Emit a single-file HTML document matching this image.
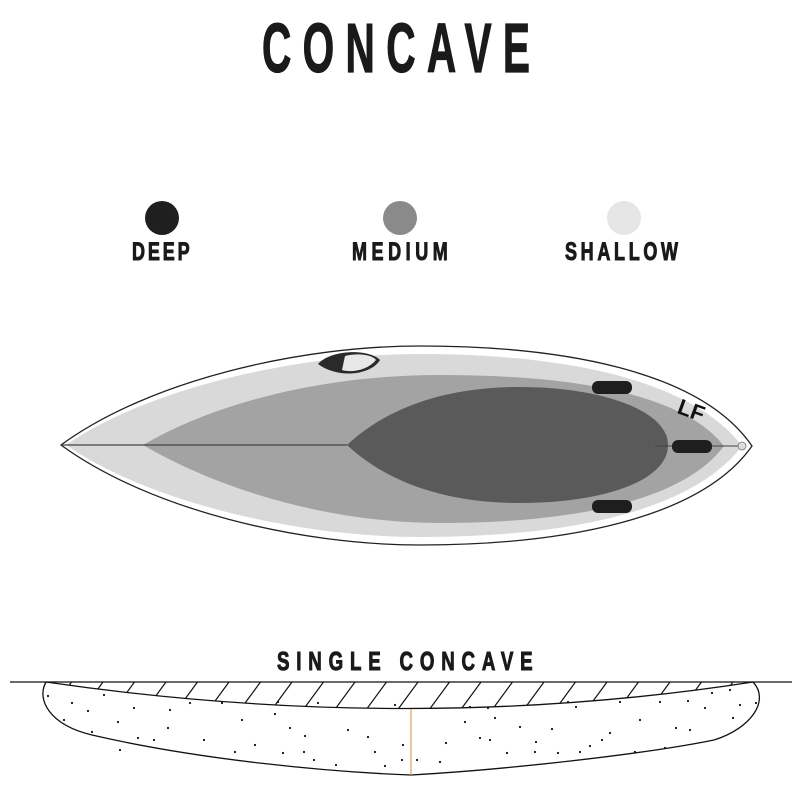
<!DOCTYPE html>
<html><head><meta charset="utf-8"><style>
html,body{margin:0;padding:0;background:#fff;}
svg{display:block;}
.t{font-family:"Liberation Sans",sans-serif;font-weight:bold;fill:#1a1a1a;stroke:#1a1a1a;stroke-width:1;}
</style></head><body>
<svg width="800" height="800" viewBox="0 0 800 800">
<rect width="800" height="800" fill="#fff"/>
<g transform="translate(262 0) scale(0.58 1)">
<text class="t" x="0" y="72" font-size="70" textLength="462" lengthAdjust="spacing" style="stroke-width:1.2">CONCAVE</text>
</g>

<g>
<circle cx="162" cy="218" r="17" fill="#1f1f1f"/>
<circle cx="400" cy="218" r="17" fill="#8a8a8a"/>
<circle cx="624" cy="218" r="17" fill="#e6e6e6"/>
<g transform="translate(132 0) scale(0.72 1)"><text class="t" x="0" y="260" font-size="25" textLength="80" lengthAdjust="spacing">DEEP</text></g>
<g transform="translate(352 0) scale(0.72 1)"><text class="t" x="0" y="260" font-size="25" textLength="133" lengthAdjust="spacing">MEDIUM</text></g>
<g transform="translate(565 0) scale(0.72 1)"><text class="t" x="0" y="260" font-size="25" textLength="157" lengthAdjust="spacing">SHALLOW</text></g>
</g>

<g>
<path d="M61,445 C150,380 300,346 420,346 C560,346 700,370 752,446 C700,520 560,545 420,545 C300,545 150,510 61,445 Z" fill="#fff" stroke="#222" stroke-width="1.3"/>
<path d="M66,445 C150,387 300,354 420,354 C560,354 690,378 742,446 C690,514 560,537 420,537 C300,537 150,503 66,445 Z" fill="#d9d9d9"/>
<path d="M143,445 C220,400 330,375 440,375 C560,375 680,390 724,446 C680,505 560,523 440,523 C330,523 220,490 143,445 Z" fill="#a3a3a3"/>
<path d="M347,445 C390,405 450,387 520,387 C600,387 668,410 668,445 C668,482 600,503 520,503 C450,503 390,485 347,445 Z" fill="#5a5a5a"/>
<line x1="61" y1="445" x2="347" y2="445" stroke="#444" stroke-width="1.2"/>
<line x1="655" y1="446" x2="745" y2="446" stroke="#444" stroke-width="1"/>
<path d="M318,364 C330,350 368,348 380,360 C372,374 340,380 318,364 Z" fill="#2a2a2a"/>
<path d="M345,356 C360,352 374,356 376,360 C368,370 352,373 342,370 Z" fill="#e8e8e8"/>
<g fill="#1e1e1e">
<rect x="592" y="381" width="40" height="13" rx="6"/>
<rect x="672" y="440" width="40" height="13" rx="6"/>
<rect x="592" y="500" width="40" height="13" rx="6"/>
</g>
<text x="678" y="418" font-family="Liberation Sans" font-weight="bold" font-size="22" fill="#111" transform="rotate(20 692 410)">LF</text>
<circle cx="742" cy="446" r="4" fill="#ddd" stroke="#777" stroke-width="0.8"/>
</g>

<g transform="translate(277 0) scale(0.72 1)">
<text class="t" x="0" y="670" font-size="26" textLength="355" lengthAdjust="spacing">SINGLE CONCAVE</text>
</g>

<g>
<defs>
<clipPath id="hb"><path d="M46,682 Q411,735 753,682 Z"/></clipPath>
</defs>
<path d="M46,682 C36,700 50,725 92,735 C200,760 330,772 411,775 C500,770 640,755 714,740 C752,728 770,700 753,682" fill="#fff" stroke="#111" stroke-width="1.3"/>
<path d="M46,682 Q411,735 753,682" fill="none" stroke="#111" stroke-width="1.3"/>
<g id="hatch" clip-path="url(#hb)" stroke="#111" stroke-width="1.2"></g>
<line x1="411" y1="709" x2="411" y2="775" stroke="#e0a060" stroke-width="1.2"/>
<g id="dots" fill="#111"></g>
<line x1="10" y1="682" x2="792" y2="682" stroke="#111" stroke-width="1.3"/>
</g>
</svg>
<script>
var h=document.getElementById('hatch');
for(var x=40;x<800;x+=31.5){
 var l=document.createElementNS('http://www.w3.org/2000/svg','line');
 
 
 l.setAttribute('x1',x-22);l.setAttribute('y1',712);l.setAttribute('x2',x);l.setAttribute('y2',682);
 h.appendChild(l);
}
var pts=[[48,696],[72,703],[88,711],[104,695],[64,720],[118,722],[92,732],[134,708],[170,710],[190,703],[222,703],[242,720],[168,728],[138,738],[154,740],[204,740],[235,752],[255,745],[283,753],[304,752],[290,728],[305,736],[314,760],[336,765],[348,730],[368,737],[375,752],[385,766],[395,705],[403,745],[402,760],[417,760],[440,762],[446,743],[465,722],[480,738],[490,740],[495,718],[507,753],[520,727],[535,752],[536,742],[552,729],[558,753],[568,702],[576,707],[590,746],[602,740],[610,733],[620,702],[640,720],[660,702],[665,748],[676,728],[688,701],[690,730],[705,708],[712,693],[730,690],[733,718],[740,705],[756,703],[635,752],[580,752],[470,707],[488,708],[278,702],[318,703],[275,714],[120,750]];
var d=document.getElementById('dots');
pts.forEach(function(p){
 var c=document.createElementNS('http://www.w3.org/2000/svg','circle');
 
 
 c.setAttribute('cx',p[0]);c.setAttribute('cy',p[1]);c.setAttribute('r',1.1);
 d.appendChild(c);
});
</script>
</body></html>
